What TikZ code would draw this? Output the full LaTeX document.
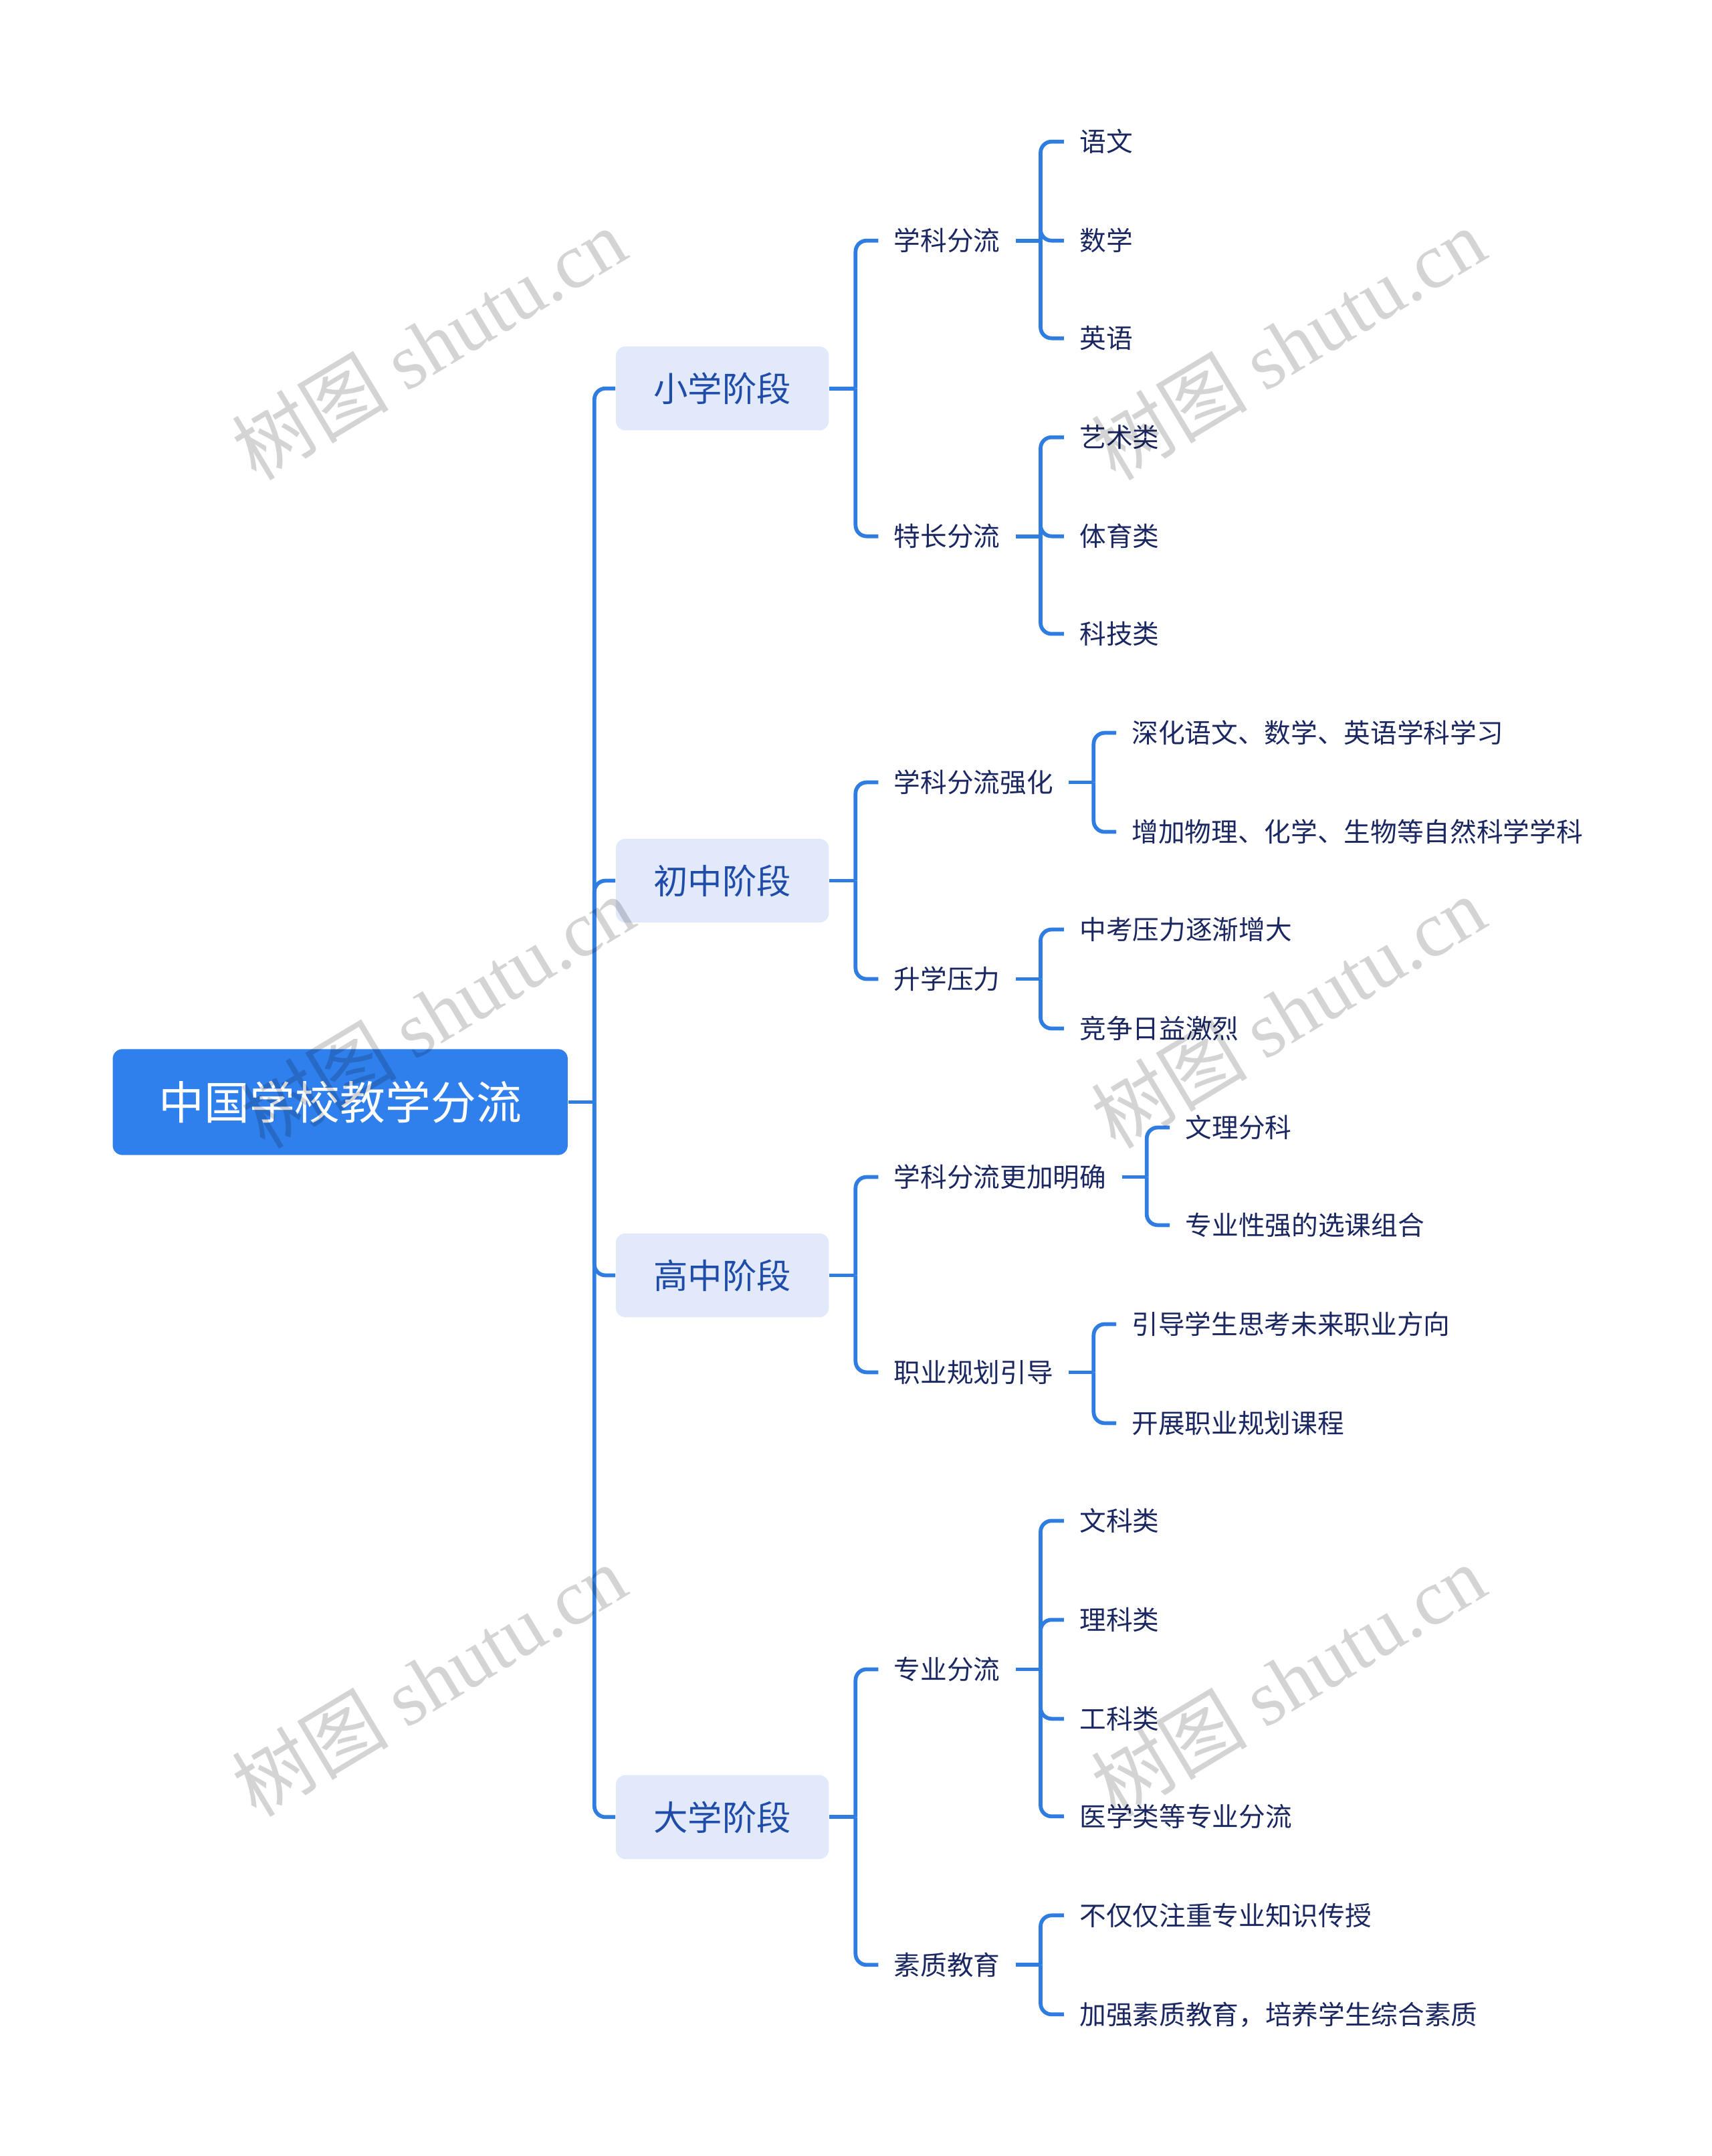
\documentclass[tikz,border=0pt]{standalone}
\usepackage{fontspec}
\setmainfont{Noto Sans CJK SC}
\newfontfamily\wmserif{Liberation Serif}
\definecolor{lineblue}{HTML}{2F7DE1}
\definecolor{rootblue}{HTML}{2F80ED}
\definecolor{stagefill}{HTML}{E1E9FB}
\definecolor{stagetext}{HTML}{1F4CA8}
\definecolor{leaftext}{HTML}{1B2761}
\begin{document}
\begin{tikzpicture}[x=0.5pt,y=-0.5pt,
  conn/.style={draw=lineblue, line width=1.4pt, rounded corners=4pt},
  rootbox/.style={fill=rootblue, rounded corners=3.5pt, minimum width=165.5pt, minimum height=38.5pt, text=white, font=\fontsize{16.5pt}{18pt}\selectfont, inner sep=0pt},
  stagebox/.style={fill=stagefill, rounded corners=3.5pt, minimum width=77.5pt, minimum height=30.5pt, text=stagetext, font=\fontsize{12.5pt}{14pt}\selectfont, inner sep=0pt},
  leaf/.style={anchor=west, text=leaftext, font=\fontsize{9.65pt}{11pt}\selectfont, inner xsep=5.5pt, inner ysep=2pt},
  wm/.style={text=black, opacity=0.17, font=\fontsize{28.5pt}{31pt}\selectfont, rotate=31, inner sep=0pt}]
\useasboundingbox (0,0) rectangle (1245,1568);

% root and stages
\node[rootbox] (root) at (247.5,801.5) {中国学校教学分流};
\node[stagebox] (s1) at (525.5,282.5) {小学阶段};
\node[stagebox] (s2) at (525.5,640.5) {初中阶段};
\node[stagebox] (s3) at (525.5,927.5) {高中阶段};
\node[stagebox] (s4) at (525.5,1321.5) {大学阶段};

% level 2
\node[leaf] (a1) at (639,175) {学科分流};
\node[leaf] (a2) at (639,390) {特长分流};
\node[leaf] (b1) at (639,569) {学科分流强化};
\node[leaf] (b2) at (639,712) {升学压力};
\node[leaf] (c1) at (639,856) {学科分流更加明确};
\node[leaf] (c2) at (639,998) {职业规划引导};
\node[leaf] (d1) at (639,1214) {专业分流};
\node[leaf] (d2) at (639,1429) {素质教育};

% level 3
\node[leaf] (a11) at (774,103) {语文};
\node[leaf] (a12) at (774,175) {数学};
\node[leaf] (a13) at (774,246) {英语};
\node[leaf] (a21) at (774,318) {艺术类};
\node[leaf] (a22) at (774,390) {体育类};
\node[leaf] (a23) at (774,461) {科技类};
\node[leaf] (b11) at (812,533) {深化语文、数学、英语学科学习};
\node[leaf] (b12) at (812,605) {增加物理、化学、生物等自然科学学科};
\node[leaf] (b21) at (774,676) {中考压力逐渐增大};
\node[leaf] (b22) at (774,748) {竞争日益激烈};
\node[leaf] (c11) at (851,820) {文理分科};
\node[leaf] (c12) at (851,891) {专业性强的选课组合};
\node[leaf] (c21) at (812,963) {引导学生思考未来职业方向};
\node[leaf] (c22) at (812,1035) {开展职业规划课程};
\node[leaf] (d11) at (774,1106) {文科类};
\node[leaf] (d12) at (774,1178) {理科类};
\node[leaf] (d13) at (774,1250) {工科类};
\node[leaf] (d14) at (774,1321) {医学类等专业分流};
\node[leaf] (d21) at (774,1393) {不仅仅注重专业知识传授};
\node[leaf] (d22) at (774,1465) {加强素质教育，培养学生综合素质};

% connectors: root -> stages
\draw[conn] (root.east) -- ++(19,0) coordinate (rj);
\foreach \c in {s1,s2,s3,s4} \draw[conn] (rj) |- (\c.west);

% stages -> level 2
\draw[conn] (s1.east) -- ++(19,0) coordinate (j1);
\foreach \c in {a1,a2} \draw[conn] (j1) |- (\c.west);
\draw[conn] (s2.east) -- ++(19,0) coordinate (j2);
\foreach \c in {b1,b2} \draw[conn] (j2) |- (\c.west);
\draw[conn] (s3.east) -- ++(19,0) coordinate (j3);
\foreach \c in {c1,c2} \draw[conn] (j3) |- (\c.west);
\draw[conn] (s4.east) -- ++(19,0) coordinate (j4);
\foreach \c in {d1,d2} \draw[conn] (j4) |- (\c.west);

% level 2 -> level 3
\draw[conn] (a1.east) -- ++(18,0) coordinate (ja1);
\foreach \c in {a11,a12,a13} \draw[conn] (ja1) |- (\c.west);
\draw[conn] (a2.east) -- ++(18,0) coordinate (ja2);
\foreach \c in {a21,a22,a23} \draw[conn] (ja2) |- (\c.west);
\draw[conn] (b1.east) -- ++(18,0) coordinate (jb1);
\foreach \c in {b11,b12} \draw[conn] (jb1) |- (\c.west);
\draw[conn] (b2.east) -- ++(18,0) coordinate (jb2);
\foreach \c in {b21,b22} \draw[conn] (jb2) |- (\c.west);
\draw[conn] (c1.east) -- ++(18,0) coordinate (jc1);
\foreach \c in {c11,c12} \draw[conn] (jc1) |- (\c.west);
\draw[conn] (c2.east) -- ++(18,0) coordinate (jc2);
\foreach \c in {c21,c22} \draw[conn] (jc2) |- (\c.west);
\draw[conn] (d1.east) -- ++(18,0) coordinate (jd1);
\foreach \c in {d11,d12,d13,d14} \draw[conn] (jd1) |- (\c.west);
\draw[conn] (d2.east) -- ++(18,0) coordinate (jd2);
\foreach \c in {d21,d22} \draw[conn] (jd2) |- (\c.west);

% watermarks
\node[wm] (w1) at (312,250) {树图 {\wmserif shutu.cn}};
\node[wm] (w2) at (937,250) {树图 {\wmserif shutu.cn}};
\node[wm] (w3) at (318,736) {树图 {\wmserif shutu.cn}};
\node[wm] (w4) at (937,736) {树图 {\wmserif shutu.cn}};
\node[wm] (w5) at (312,1222) {树图 {\wmserif shutu.cn}};
\node[wm] (w6) at (937,1222) {树图 {\wmserif shutu.cn}};
\end{tikzpicture}
\end{document}
